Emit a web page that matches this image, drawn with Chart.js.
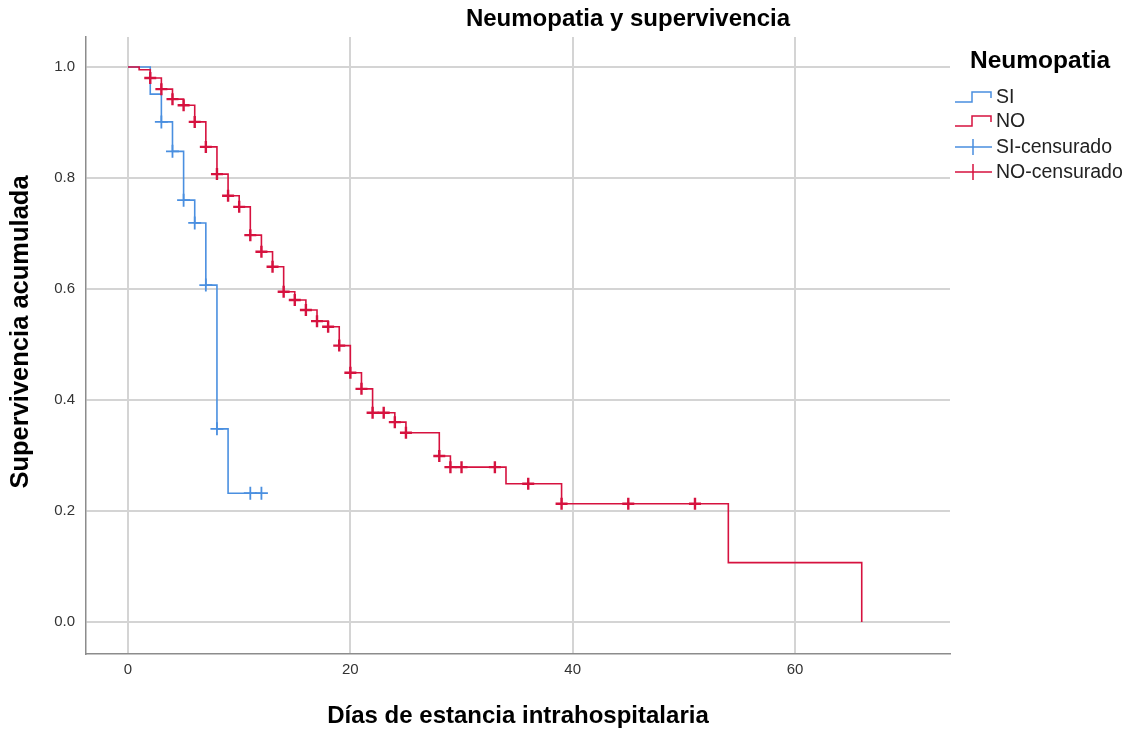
<!DOCTYPE html>
<html>
<head>
<meta charset="utf-8">
<script src="https://cdn.jsdelivr.net/npm/chart.js@4/dist/chart.umd.min.js"></script>
<style>
  html, body { margin: 0; padding: 0; background: #fff; }
  #wrap { width: 1130px; height: 730px; }
</style>
</head>
<body>
<div id="wrap"><canvas id="km"></canvas></div>
<script>
// Kaplan-Meier steps (time, cumulative survival)
const siTimes = [0, 2, 3, 4, 5, 6, 7, 8, 9, 12];
const siSurv = [1.0, 0.951, 0.901, 0.848, 0.760, 0.719, 0.607, 0.348, 0.232, 0.232];
const siCensored = [3, 4, 5, 6, 7, 8, 11, 12];

const noTimes = [0, 1, 2, 3, 4, 5, 6, 7, 8, 9, 10, 11, 12, 13, 14, 15, 16, 17, 18, 19, 20, 21, 22, 24, 25, 28, 29, 34, 39, 54, 66];
const noSurv = [1.0, 0.995, 0.980, 0.960, 0.942, 0.931, 0.901, 0.856, 0.807, 0.768, 0.748, 0.697, 0.667, 0.640, 0.595, 0.580, 0.562, 0.542, 0.532, 0.498, 0.449, 0.420, 0.377, 0.360, 0.341, 0.299, 0.279, 0.249, 0.213, 0.107, 0];
const noCensored = [2, 3, 4, 5, 6, 7, 8, 9, 10, 11, 12, 13, 14, 15, 16, 17, 18, 19, 20, 21, 22, 23, 24, 25, 28, 29, 30, 33, 36, 39, 45, 51];

const xTicks = [0, 20, 40, 60];
const yTicks = [0, 0.2, 0.4, 0.6, 0.8, 1.0];

const groups = ['SI', 'NO'];
const BLUE = '#4a8fe0';
const RED = '#d6123f';

function steps(times, surv) {
    return times.map((t, i) => ({ x: t, y: surv[i] }));
}

// survival at time t (value after any drop at t)
function survAt(times, surv, t) {
    let s = surv[0];
    for (let i = 0; i < times.length; i++) {
        if (times[i] <= t) s = surv[i];
    }
    return s;
}

function censorPoints(times, surv, cens) {
    return cens.map(t => ({ x: t, y: survAt(times, surv, t) }));
}

const FONT = '"Liberation Sans", Arial, sans-serif';

const overlay = {
    id: 'overlay',
    afterDraw(chart) {
        const ctx = chart.ctx;
        const area = chart.chartArea;
        ctx.save();
        ctx.fillStyle = '#000';
        ctx.textBaseline = 'middle';

        // title
        ctx.font = 'bold 24px ' + FONT;
        ctx.textAlign = 'center';
        ctx.fillText('Neumopatia y supervivencia', 628, 19);

        // axis titles
        ctx.font = 'bold 24px ' + FONT;
        ctx.fillText('Días de estancia intrahospitalaria', (area.left + area.right) / 2, 716);
        ctx.save();
        ctx.translate(21, 332);
        ctx.rotate(-Math.PI / 2);
        ctx.font = 'bold 25.5px ' + FONT;
        ctx.fillText('Supervivencia acumulada', 0, 0);
        ctx.restore();

        // legend
        ctx.textAlign = 'left';
        ctx.font = 'bold 24.5px ' + FONT;
        ctx.fillText('Neumopatia', 970, 61);

        const items = [
            { label: groups[0], color: BLUE, kind: 'step', y: 97 },
            { label: groups[1], color: RED, kind: 'step', y: 121 },
            { label: groups[0] + '-censurado', color: BLUE, kind: 'cross', y: 147 },
            { label: groups[1] + '-censurado', color: RED, kind: 'cross', y: 172 }
        ];
        ctx.font = '19.5px ' + FONT;
        items.forEach(it => {
            ctx.strokeStyle = it.color;
            ctx.lineWidth = 1.5;
            ctx.beginPath();
            if (it.kind === 'step') {
                ctx.moveTo(955, it.y + 5);
                ctx.lineTo(972, it.y + 5);
                ctx.lineTo(972, it.y - 5);
                ctx.lineTo(991, it.y - 5);
                ctx.lineTo(991, it.y + 1);
            } else {
                ctx.moveTo(955, it.y);
                ctx.lineTo(992, it.y);
                ctx.moveTo(973, it.y - 8);
                ctx.lineTo(973, it.y + 8);
            }
            ctx.stroke();
            ctx.fillStyle = '#222';
            ctx.fillText(it.label, 996, it.y + 1);
        });
        ctx.restore();
    }
};

new Chart(document.getElementById('km'), {
    type: 'line',
    data: {
        datasets: [
            {
                label: groups[1],
                data: steps(noTimes, noSurv),
                borderColor: RED,
                borderWidth: 1.6,
                stepped: true,
                pointRadius: 0,
                fill: false
            },
            {
                label: groups[1] + '-censurado',
                data: censorPoints(noTimes, noSurv, noCensored),
                showLine: false,
                pointStyle: 'cross',
                pointRadius: 6,
                pointBorderWidth: 2.4,
                pointBorderColor: RED
            },
            {
                label: groups[0],
                data: steps(siTimes, siSurv),
                borderColor: BLUE,
                borderWidth: 1.6,
                stepped: true,
                pointRadius: 0,
                fill: false
            },
            {
                label: groups[0] + '-censurado',
                data: censorPoints(siTimes, siSurv, siCensored),
                showLine: false,
                pointStyle: 'cross',
                pointRadius: 6.5,
                pointBorderWidth: 1.8,
                pointBorderColor: BLUE
            }
        ]
    },
    plugins: [overlay],
    options: {
        responsive: true,
        maintainAspectRatio: false,
        animation: false,
        layout: { padding: { top: 37, right: 180, left: 0, bottom: 0 } },
        plugins: {
            legend: { display: false },
            title: { display: false },
            tooltip: { enabled: false }
        },
        scales: {
            x: {
                type: 'linear',
                min: -3.78,
                max: 73.94,
                afterBuildTicks: axis => { axis.ticks = xTicks.map(v => ({ value: v })); },
                afterFit: axis => { axis.height = 76; },
                grid: { color: '#d4d4d4', lineWidth: 2, drawTicks: false },
                border: { color: '#8c8c8c', width: 1.5 },
                ticks: {
                    padding: 7,
                    color: '#333',
                    font: { family: FONT, size: 15 },
                    maxRotation: 0
                }
            },
            y: {
                min: -0.0577,
                max: 1.054,
                afterBuildTicks: axis => { axis.ticks = yTicks.map(v => ({ value: v })); },
                afterFit: axis => { axis.width = 86; },
                grid: { color: '#d4d4d4', lineWidth: 2, drawTicks: false },
                border: { color: '#8c8c8c', width: 1.5 },
                ticks: {
                    padding: 11,
                    color: '#333',
                    font: { family: FONT, size: 15 },
                    callback: v => v.toFixed(1)
                }
            }
        }
    }
});
</script>
</body>
</html>
